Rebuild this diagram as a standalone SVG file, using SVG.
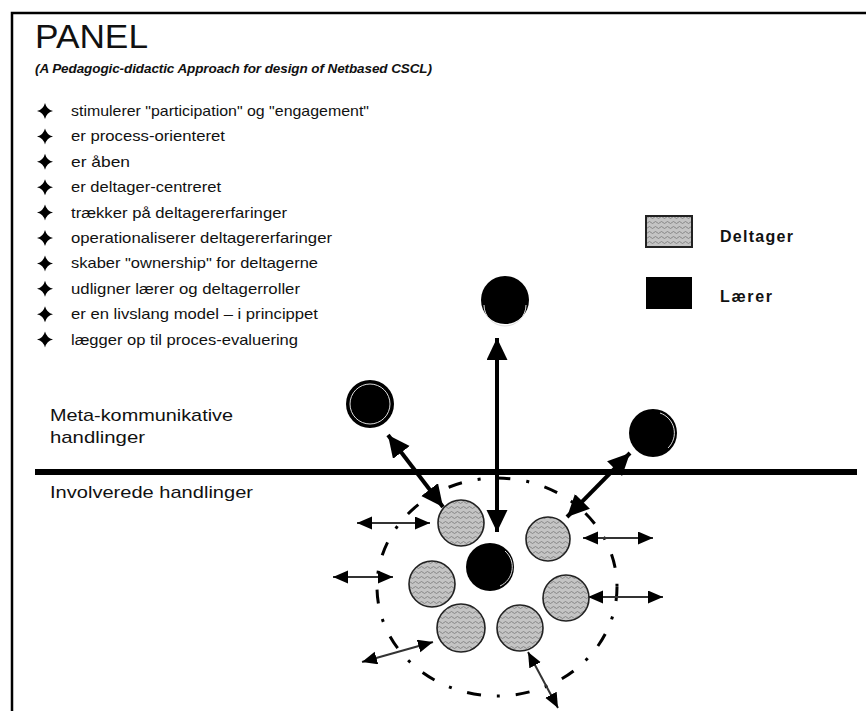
<svg xmlns="http://www.w3.org/2000/svg" width="866" height="711" viewBox="0 0 866 711">
<style>
.t{font-family:"Liberation Sans",Arial,sans-serif;fill:#111}
.b{font-size:15px}
.h{font-size:17px}
.lg{font-size:16px;font-weight:bold}
.d{fill:url(#wave);stroke:#222;stroke-width:1.6}
.k{fill:#000}
.ring{fill:none;stroke:#ddd;stroke-width:1}
.big{stroke:#000;stroke-width:4;fill:none}
.sm{stroke:#333;stroke-width:2;fill:none}
</style>
<defs>
<pattern id="wave" width="6" height="5" patternUnits="userSpaceOnUse">
<rect width="6" height="5" fill="#c4c4c4"/>
<path d="M0,2.5 q1.5,-2 3,0 t3,0" fill="none" stroke="#777" stroke-width="0.8"/>
</pattern>
<path id="star" d="M0,-8 Q1.6,-1.6 8,0 Q1.6,1.6 0,8 Q-1.6,1.6 -8,0 Q-1.6,-1.6 0,-8Z" fill="#000"/>
<marker id="bh" markerUnits="userSpaceOnUse" markerWidth="24" markerHeight="22" refX="22" refY="10.5" orient="auto-start-reverse">
<path d="M0,0 L22,10.5 L0,21 Z" fill="#000"/>
</marker>
<marker id="sh" markerUnits="userSpaceOnUse" markerWidth="17" markerHeight="14" refX="15" refY="6.5" orient="auto-start-reverse">
<path d="M0,0 L15,6.5 L0,13 Z" fill="#000"/>
</marker>
</defs>
<rect width="866" height="711" fill="#fff"/>
<g id="frame" stroke="#000" stroke-width="2.5" fill="none">
<path d="M12,711 V13 H866"/>
</g>
<g id="title">
<text class="t" x="35" y="48" font-size="34" textLength="113" lengthAdjust="spacingAndGlyphs">PANEL</text>
<text class="t" x="35" y="73" font-size="13.5" font-weight="bold" font-style="italic" textLength="397" lengthAdjust="spacing">(A Pedagogic-didactic Approach for design  of Netbased CSCL)</text>
</g>
<g id="bullets">
<use href="#star" x="45" y="111"/>
<use href="#star" x="45" y="136.4"/>
<use href="#star" x="45" y="161.8"/>
<use href="#star" x="45" y="187.2"/>
<use href="#star" x="45" y="212.6"/>
<use href="#star" x="45" y="238"/>
<use href="#star" x="45" y="263.4"/>
<use href="#star" x="45" y="288.8"/>
<use href="#star" x="45" y="314.2"/>
<use href="#star" x="45" y="339.6"/>
<text class="t b" x="71" y="116" textLength="298" lengthAdjust="spacingAndGlyphs">stimulerer "participation" og "engagement"</text>
<text class="t b" x="71" y="141.4" textLength="154" lengthAdjust="spacingAndGlyphs">er process-orienteret</text>
<text class="t b" x="71" y="166.8" textLength="59" lengthAdjust="spacingAndGlyphs">er åben</text>
<text class="t b" x="71" y="192.2" textLength="150" lengthAdjust="spacingAndGlyphs">er deltager-centreret</text>
<text class="t b" x="71" y="217.6" textLength="216" lengthAdjust="spacingAndGlyphs">trækker på deltagererfaringer</text>
<text class="t b" x="71" y="243" textLength="261" lengthAdjust="spacingAndGlyphs">operationaliserer deltagererfaringer</text>
<text class="t b" x="71" y="268.4" textLength="247" lengthAdjust="spacingAndGlyphs">skaber "ownership" for deltagerne</text>
<text class="t b" x="71" y="293.8" textLength="229" lengthAdjust="spacingAndGlyphs">udligner lærer og deltagerroller</text>
<text class="t b" x="71" y="319.2" textLength="247" lengthAdjust="spacingAndGlyphs">er en livslang model – i princippet</text>
<text class="t b" x="71" y="344.6" textLength="227" lengthAdjust="spacingAndGlyphs">lægger op til proces-evaluering</text>
</g>
<g id="legend">
<rect x="646" y="216" width="46" height="31" fill="url(#wave)" stroke="#222" stroke-width="2"/>
<text class="t lg" x="720" y="242" textLength="73" lengthAdjust="spacing">Deltager</text>
<rect x="646" y="277" width="46" height="32" fill="#000"/>
<text class="t lg" x="720" y="302" textLength="52" lengthAdjust="spacing">Lærer</text>
</g>
<g id="levels">
<text class="t h" x="50" y="421" textLength="183" lengthAdjust="spacingAndGlyphs">Meta-kommunikative</text>
<text class="t h" x="50" y="443" textLength="95" lengthAdjust="spacingAndGlyphs">handlinger</text>
<line x1="35" y1="472" x2="857" y2="472" stroke="#000" stroke-width="6"/>
<text class="t h" x="50" y="498" textLength="203" lengthAdjust="spacingAndGlyphs">Involverede handlinger</text>
</g>
<g id="group-boundary">
<ellipse cx="497" cy="587" rx="120" ry="109" fill="none" stroke="#000" stroke-width="3" stroke-dasharray="14 16 3 16"/>
</g>
<g id="connectors">
<line class="big" x1="497" y1="338" x2="497" y2="532" marker-start="url(#bh)" marker-end="url(#bh)"/>
<line class="big" x1="388" y1="435" x2="443" y2="507" marker-start="url(#bh)" marker-end="url(#bh)"/>
<line class="big" x1="630" y1="453" x2="567" y2="517" marker-start="url(#bh)" marker-end="url(#bh)"/>
<line class="sm" x1="357" y1="523" x2="430" y2="523" marker-start="url(#sh)" marker-end="url(#sh)"/>
<line class="sm" x1="333" y1="577" x2="393" y2="577" marker-start="url(#sh)" marker-end="url(#sh)"/>
<line class="sm" x1="362" y1="662" x2="433" y2="642" marker-start="url(#sh)" marker-end="url(#sh)"/>
<line class="sm" x1="528" y1="652" x2="558" y2="708" marker-start="url(#sh)" marker-end="url(#sh)"/>
<line class="sm" x1="583" y1="538" x2="653" y2="538" marker-start="url(#sh)" marker-end="url(#sh)"/>
<line class="sm" x1="588" y1="597" x2="663" y2="597" marker-start="url(#sh)" marker-end="url(#sh)"/>
</g>
<g id="teacher-top"><circle class="k" cx="505" cy="300" r="24"/><path class="ring" d="M484,305 A21,21 0 0 0 526,305"/></g>
<g id="teacher-left"><circle class="k" cx="370" cy="404" r="24"/><circle class="ring" cx="370" cy="404" r="20"/></g>
<g id="teacher-right"><circle class="k" cx="653" cy="433" r="24"/><path class="ring" d="M660,413 A21,21 0 0 1 668,448"/></g>
<g id="teacher-center"><circle class="k" cx="490" cy="567" r="24"/><path class="ring" d="M505,551 A21,21 0 0 1 500,586"/></g>
<g id="deltager-1"><circle class="d" cx="461" cy="523" r="23"/></g>
<g id="deltager-2"><circle class="d" cx="548" cy="539" r="22"/></g>
<g id="deltager-3"><circle class="d" cx="432" cy="584" r="23"/></g>
<g id="deltager-4"><circle class="d" cx="566" cy="598" r="23"/></g>
<g id="deltager-5"><circle class="d" cx="461" cy="628" r="24"/></g>
<g id="deltager-6"><circle class="d" cx="520" cy="628" r="23"/></g>
</svg>
